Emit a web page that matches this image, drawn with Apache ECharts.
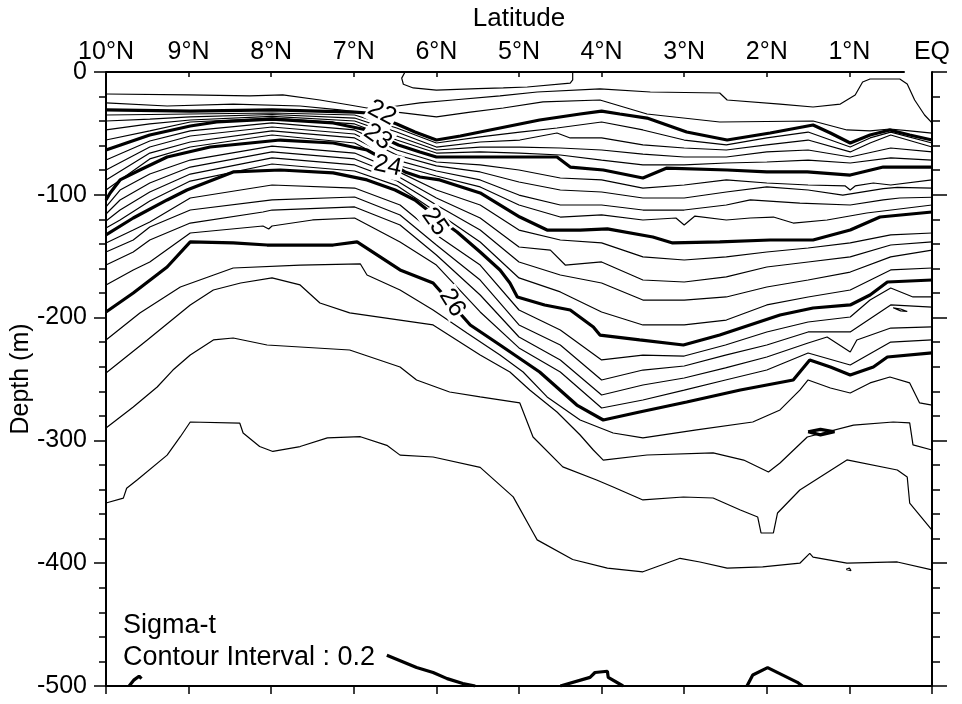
<!DOCTYPE html>
<html><head><meta charset="utf-8">
<script src="https://cdn.jsdelivr.net/npm/echarts/dist/echarts.min.js"></script>
<style>html,body{margin:0;padding:0;background:#fff}#c{width:962px;height:704px}</style>
</head><body><div id="c"></div>
<script>
// ---- axis ticks ----
const latTicks = [10,9,8,7,6,5,4,3,2,1,0];
const depthTicks = [0,-100,-200,-300,-400,-500];
const topLineEnd = 0.33; // top frame stops short of EQ

// ---- contour lines: [latitude (deg N), depth (m)] ----
const c21_4 = [[6.38,0],[6.42,-5],[6.4,-10],[6.28,-13],[6.0,-14.7],[5.5,-13.6],[5.19,-13],[4.9,-12.2],[4.38,-9],[4.35,-6.5],[4.35,0]];
const c21_6 = [[10,-17.9],[9,-18.7],[8.26,-19.5],[7.86,-18.7],[7.41,-22.8],[7.05,-26.9],[6.84,-29.3],[6.56,-28.5],[6.2,-25.2],[5.8,-22.8],[5.23,-19.5],[4.78,-16.3],[4.02,-13.8],[3.41,-16.3],[2.57,-17.1],[2.48,-22.8],[1.84,-26.1],[1.44,-28.5],[1.11,-26.1],[0.93,-18.7],[0.84,-8.1],[0.75,-5.7],[0.39,-5.7],[0.3,-9.8],[0.21,-22.8],[0.09,-35],[0,-41.5]];
const c21_8 = [[10,-25.2],[9.26,-27.7],[8.46,-26.1],[7.65,-27.7],[7.17,-30.9],[6.84,-33.4],[6.48,-32.6],[6.0,-36.6],[5.59,-32.6],[5.19,-29.3],[4.71,-24.4],[4.02,-22.8],[3.45,-34.2],[2.57,-40.7],[1.44,-39.9],[1.03,-47.2],[0.75,-48],[0.51,-46.4],[0.27,-48],[0,-49.7]];
const c22 = [[10,-30.9],[8.98,-31.8],[7.99,-30.9],[6.99,-32.6],[6.83,-33.4],[6.48,-42.3],[6.26,-48.9],[6.0,-55.4],[5.71,-52.1],[5.23,-45.6],[4.75,-39.1],[4.26,-34.2],[4.0,-31.8],[3.78,-34.2],[3.45,-37.5],[2.97,-48.9],[2.48,-55.4],[1.96,-49.7],[1.44,-43.2],[1.23,-49.7],[0.99,-57.8],[0.75,-51.3],[0.51,-47.2],[0.27,-51.3],[0,-55.4]];
const c22_2 = [[10,-35],[9.47,-34.6],[8.98,-34.2],[7.99,-33.4],[6.99,-35],[6.48,-45.6],[6.0,-57.8],[5.47,-52.9],[4.99,-48.9],[4.54,-45.6],[4.0,-40.7],[3.5,-47.2],[3.0,-55.4],[2.49,-59.4],[2.0,-53.7],[1.5,-48.9],[0.99,-61.1],[0.75,-53.7],[0.5,-48.9],[0,-57.8]];
const c22_4 = [[10,-39.9],[9.47,-38.3],[8.98,-36.6],[7.99,-34.6],[6.99,-37.5],[6.48,-48.9],[6.0,-61.1],[5.47,-57],[4.99,-55.4],[4.54,-49.7],[4.38,-53.7],[4.0,-53.7],[3.5,-59.4],[3.0,-61.9],[2.49,-63.5],[2.0,-59.4],[1.5,-55.4],[0.99,-65.1],[0.75,-57.8],[0.5,-51.3],[0,-61.1]];
const c22_6 = [[10,-47.2],[9.47,-42.3],[8.98,-39.1],[7.99,-36.2],[6.99,-39.9],[6.48,-52.1],[6.0,-63.5],[5.47,-61.1],[4.99,-61.1],[4.5,-61.9],[4.0,-63.5],[3.5,-66.8],[3.0,-69.2],[2.49,-69.2],[2.0,-65.1],[1.5,-63.5],[0.99,-69.2],[0.5,-61.9],[0,-65.1]];
const c22_8 = [[10,-55.4],[9.47,-48],[8.98,-40.7],[7.99,-37.5],[6.99,-42.3],[6.48,-55.4],[6.0,-66],[5.47,-65.1],[4.99,-66],[4.5,-67.6],[4.0,-71.7],[3.5,-75.7],[3.0,-75.7],[2.49,-74.1],[2.0,-73.3],[1.5,-71.7],[0.99,-74.1],[0.5,-70],[0,-71.7]];
const c23 = [[10,-63.5],[9.47,-51.3],[8.98,-44],[8.66,-40.7],[7.99,-38.3],[7.25,-41.5],[6.84,-47.2],[6.46,-59.4],[6.2,-65.1],[6.0,-69.2],[5.47,-69.2],[4.54,-69.2],[4.38,-77.4],[3.98,-79.8],[3.5,-86.3],[3.21,-78.2],[2.48,-79.8],[2.0,-81.4],[1.51,-81.4],[0.99,-83.9],[0.59,-77.4],[0,-77.4]];
const c23_2 = [[10,-71.7],[9.47,-56.2],[8.98,-48],[7.99,-41.5],[6.99,-47.2],[6.48,-63.5],[6.0,-73.3],[5.47,-75.7],[5.0,-79.8],[4.5,-86.3],[4.0,-87.9],[3.5,-94.5],[3.0,-92],[2.49,-87.9],[2.0,-90.4],[1.5,-92],[1.05,-92.8],[0.99,-96.1],[0.93,-92.8],[0.71,-90.4],[0.5,-92],[0,-87.9]];
const c23_4 = [[10,-79.8],[9.47,-61.1],[8.98,-52.1],[7.99,-44.8],[6.99,-50.5],[6.48,-67.6],[6.0,-76.5],[5.47,-81.4],[5.0,-89.6],[4.5,-96.1],[4.0,-97.7],[3.5,-102.6],[3.0,-102.6],[2.49,-97.7],[2.0,-93.6],[1.5,-96.1],[1.08,-100.2],[0.59,-95],[0.42,-94],[0,-94.5]];
const c23_6 = [[10,-87.9],[9.47,-66],[8.98,-57],[7.99,-48],[6.99,-53.7],[6.48,-71.7],[6.0,-80.6],[5.47,-87.9],[5.0,-100.2],[4.5,-108.3],[4.0,-108.3],[3.5,-112.4],[3.0,-112.4],[2.49,-108.3],[2.2,-104.2],[1.6,-106.7],[0.99,-108.3],[0.59,-104.2],[0.39,-102.6],[0,-102]];
const c23_8 = [[10,-96.1],[9.47,-70.8],[8.98,-61.1],[7.99,-51.3],[6.99,-57.8],[6.48,-75.7],[6.0,-84.7],[5.47,-93.6],[5.0,-108.3],[4.5,-118.1],[4.0,-116.4],[3.5,-120.5],[3.1,-118.9],[3.0,-124.6],[2.87,-117.3],[2.49,-120.5],[2.2,-118.9],[1.92,-118.1],[1.68,-123],[1.27,-120.5],[0.79,-114.8],[0,-108.3]];
const c24 = [[10,-104.2],[9.95,-98.5],[9.83,-87.9],[9.59,-79.8],[9.26,-69.2],[8.74,-61.1],[7.89,-55.4],[7.25,-57.8],[6.84,-63.5],[6.62,-71.7],[6.38,-81.4],[6.2,-85.5],[5.96,-87.9],[5.47,-98.5],[4.99,-118.1],[4.66,-128.7],[4.26,-128.7],[3.93,-127.8],[3.38,-134.4],[3.14,-139.2],[2.57,-138.4],[1.96,-136.8],[1.44,-136.8],[0.99,-128.7],[0.63,-118.1],[0,-114]];
const c24_2 = [[10,-109.9],[9.83,-96.1],[9.47,-83.1],[8.98,-71.7],[7.99,-60.3],[6.99,-66],[6.48,-80.5],[6.0,-96.1],[5.47,-108.3],[5.0,-128.7],[4.5,-136.8],[4.0,-139.2],[3.5,-150.6],[3.0,-153.1],[2.49,-150.6],[2.0,-146.6],[1.5,-143.3],[0.99,-139.2],[0.5,-132.7],[0,-131.1]];
const c24_4 = [[10,-115.6],[9.83,-104.2],[9.47,-90.4],[8.98,-77.4],[7.99,-65.1],[6.99,-70.8],[6.48,-84.5],[6.0,-102.6],[5.47,-118.9],[5.0,-142.5],[4.62,-145],[4.44,-157.2],[4.0,-154.7],[3.5,-169.4],[3.0,-171],[2.49,-166.9],[2.0,-158.8],[1.5,-154.7],[0.99,-150.6],[0.5,-140.9],[0,-138.4]];
const c24_6 = [[10,-121.3],[9.83,-112.4],[9.47,-97.7],[8.98,-83.1],[7.99,-70],[6.99,-75.7],[6.48,-88.5],[6.0,-108.3],[5.47,-128.7],[5.0,-154.7],[4.5,-165.3],[4.0,-171.8],[3.5,-185.7],[3.0,-185.7],[2.49,-183.2],[2.0,-175.1],[1.5,-169.4],[0.99,-162.9],[0.5,-150.6],[0,-145]];
const c24_8 = [[10,-127],[9.83,-120.5],[9.47,-105],[8.98,-88.8],[7.99,-74.9],[6.99,-80.6],[6.48,-92.5],[6.0,-114],[5.47,-138.4],[5.0,-167.7],[4.5,-179.1],[4.0,-195.4],[3.5,-206],[3.0,-206],[2.49,-202],[2.0,-189.7],[1.5,-183.2],[0.99,-177.5],[0.5,-161.2],[0,-159.6]];
const c25 = [[10,-132.7],[9.67,-118.9],[9.26,-104.2],[9.02,-96.1],[8.46,-81.4],[7.89,-79.8],[7.25,-82.2],[6.84,-87.9],[6.5,-96.1],[6.26,-104.2],[6.0,-118.1],[5.75,-130.3],[5.47,-146.6],[5.23,-161.2],[5.11,-171.8],[5.02,-183.2],[4.69,-189.7],[4.38,-193.8],[4.1,-207.6],[4.02,-214.2],[3.54,-218.2],[3.01,-222.3],[2.57,-214.2],[1.84,-197.9],[1.44,-192.2],[0.99,-189.7],[0.75,-181.6],[0.54,-171],[0,-169.4]];
const c25_2 = [[10,-139.2],[9.67,-128.7],[9.47,-122.1],[8.98,-102.6],[7.99,-92],[6.99,-94.5],[6.44,-108.3],[6.0,-132.7],[5.47,-157.2],[5.0,-193.8],[4.5,-210.1],[4.0,-234.5],[3.5,-230.5],[3.0,-231.3],[2.5,-222.3],[2.0,-211.7],[1.5,-203.6],[0.99,-199.5],[0.75,-185.7],[0.5,-175.9],[0.23,-183.2],[0,-183.2]];
const c25_4 = [[10,-146.6],[9.67,-136.8],[9.47,-126.2],[8.98,-112.4],[7.99,-104.2],[6.99,-101.8],[6.44,-116.4],[6.0,-140.9],[5.47,-169.4],[5.0,-206],[4.5,-222.3],[4.0,-250.8],[3.5,-242.7],[3.0,-239.4],[2.5,-230.5],[2.0,-222.3],[1.5,-211.7],[0.99,-211.7],[0.5,-189.7],[0,-191.4]];
const c25_6 = [[10,-157.2],[9.67,-146.6],[9.47,-136.8],[8.98,-123],[8.1,-114],[7.99,-112.4],[6.99,-109.9],[6.44,-124.6],[6.0,-149],[5.47,-181.6],[5.0,-215.8],[4.5,-234.5],[4.0,-263],[3.5,-254.9],[3.0,-249.2],[2.5,-241],[2.0,-232.1],[1.5,-220.7],[1.27,-215.8],[0.99,-228],[0.91,-218.2],[0.5,-208.5],[0,-207.6]];
const c25_8 = [[10,-173.4],[9.67,-161.2],[9.47,-154.7],[8.98,-131.1],[8.1,-125.4],[8.03,-127.8],[7.99,-125.4],[7.5,-120.5],[6.99,-118.9],[6.44,-138.4],[6.0,-157.2],[5.47,-195.4],[5.0,-224.7],[4.5,-244.3],[4.0,-273.6],[3.5,-267.1],[3.0,-259],[2.5,-250.8],[2.0,-242.7],[1.5,-228.8],[0.99,-238.6],[0.5,-219.9],[0,-218.2]];
const c26 = [[10,-195.4],[9.67,-180],[9.26,-158.8],[8.98,-138.4],[8.46,-139.2],[8.05,-140.9],[7.25,-140.9],[6.96,-138.4],[6.44,-161.2],[6.04,-171.8],[5.59,-206],[5.23,-222.3],[4.75,-244.3],[4.3,-271.2],[3.98,-283.4],[3.54,-276.9],[2.97,-268.7],[2.32,-259],[1.68,-250.8],[1.48,-234.5],[1.23,-240.2],[0.99,-246.7],[0.71,-240.2],[0.54,-232.1],[0,-228.8]];
const c26_2 = [[10,-218.2],[9.59,-196.2],[9.1,-175.1],[8.46,-159.6],[7.65,-157.2],[6.92,-156.3],[6.84,-165.3],[6.44,-177.5],[6.04,-193.8],[5.63,-212.5],[5.23,-230.5],[4.95,-244.3],[4.66,-264.6],[4.26,-283.4],[3.86,-294],[3.5,-298],[2.85,-291.5],[2.17,-285],[1.84,-275.2],[1.6,-259],[1.5,-250.8],[1.23,-257.3],[0.99,-261.4],[0.75,-253.2],[0.51,-248.4],[0.27,-253.2],[0.15,-269.5],[0,-271.2]];
const c26_4 = [[10,-245.1],[9.5,-218.2],[8.98,-189.7],[8.7,-177.5],[8.37,-171.8],[7.99,-167.7],[7.65,-173.4],[7.41,-188.1],[7.05,-196.2],[6.44,-202],[6.04,-206],[5.47,-230.5],[5.11,-244.3],[4.87,-259],[4.54,-276.9],[4.26,-295.6],[4.1,-307.8],[3.98,-316],[3.45,-311.9],[2.65,-310.2],[2.28,-316],[1.98,-325.7],[1.84,-318.4],[1.51,-297.2],[0.95,-287.5],[0.47,-285],[0.27,-285.8],[0.23,-303.7],[0,-307.8]];
const c26_6 = [[10,-289.9],[9.67,-272.8],[9.38,-256.5],[9.19,-242.7],[8.98,-230.5],[8.7,-218.2],[8.46,-216.6],[8.05,-222.3],[7.05,-226.4],[6.44,-240.2],[6.24,-250.8],[5.84,-260.6],[5.47,-264.6],[4.99,-269.5],[4.83,-297.2],[4.47,-321.6],[4.06,-332.2],[3.86,-337.9],[3.5,-348.5],[3.01,-346.1],[2.65,-346.9],[2.32,-356.7],[2.11,-362.4],[2.07,-375.4],[1.92,-375.4],[1.87,-359.1],[1.6,-340.4],[1.03,-315.9],[0.42,-324.1],[0.3,-329.8],[0.27,-351],[0,-373]];
const c26_8 = [[10,-351],[9.79,-347],[9.75,-339],[9.62,-332],[9.26,-312],[9.1,-297],[8.98,-285],[8.38,-286],[8.34,-294],[8.14,-305],[7.98,-309],[7.65,-305],[7.32,-298],[6.92,-297],[6.6,-304],[6.44,-312],[6.04,-313.5],[5.47,-322],[5.07,-346],[4.83,-375],[4.78,-381],[4.35,-397],[3.93,-404],[3.5,-407],[3.05,-396],[2.81,-399],[2.48,-404],[2.05,-403],[1.6,-400],[1.48,-392],[1.44,-395],[1.03,-400],[0.42,-399],[0,-405.5]];
const c27a = [[9.72,-500],[9.66,-495],[9.6,-492],[9.57,-494]];
const c27b = [[6.6,-475],[6.24,-485],[6.04,-489],[5.87,-494],[5.68,-498],[5.53,-500]];
const c27c = [[4.5,-500],[4.14,-493],[4.08,-489],[3.93,-488],[3.92,-493],[3.74,-500]];
const c27d = [[2.24,-500],[2.17,-491],[1.99,-485],[1.63,-497],[1.57,-500]];
const islandA = [[1.5,-293],[1.35,-291],[1.18,-293],[1.35,-295.5],[1.5,-293]];
const islandB = [[0.47,-192],[0.38,-193],[0.3,-195],[0.38,-194.5],[0.47,-192]];
const islandC = [[1.04,-405],[1.0,-404],[0.98,-406],[1.04,-405]];

const thinLines = [c21_4,c21_6,c21_8,c22_2,c22_4,c22_6,c22_8,c23_2,c23_4,c23_6,c23_8,
  c24_2,c24_4,c24_6,c24_8,c25_2,c25_4,c25_6,c25_8,c26_2,c26_4,c26_6,c26_8,islandB,islandC];
const thickLines = [c22,c23,c24,c25,c26,c27a,c27b,c27c,c27d,islandA];

// ---- contour labels ----
const labelText  = ['22','23','24','25','26'];
const labelLat   = [6.66,6.71,6.59,6.02,5.81];
const labelDepth = [-33.4,-52.9,-76.5,-122,-188];
const labelRot   = [-28,-35,-12,-55,-58];

const FF = '"Liberation Sans", Arial, Helvetica, sans-serif';
const chart = echarts.init(document.getElementById('c'), null, {renderer:'canvas'});

function lineSeries(data, w){
  return {type:'line', data:data, xAxisIndex:0, yAxisIndex:0, symbol:'none', showSymbol:false,
    silent:true, lineStyle:{color:'#000', width:w}, z:2, animation:false};
}
const series = [];
thinLines.forEach(d => series.push(lineSeries(d, 1.2)));
thickLines.forEach(d => series.push(lineSeries(d, 3.2)));
series.push({type:'line', data:[[latTicks[0],depthTicks[0]],[topLineEnd,depthTicks[0]]], symbol:'none',
  clip:false, silent:true, lineStyle:{color:'#000', width:2}, z:3});

const latFmt = v => v === 0 ? 'EQ' : v + '°N';

const legendTexts = [
  {type:'text', left:123, top:612, style:{text:'Sigma-t', font:'27px ' + FF, fill:'#000'}},
  {type:'text', left:123, top:644, style:{text:'Contour Interval : 0.2', font:'27px ' + FF, fill:'#000'}}
];

chart.setOption({
  animation:false,
  backgroundColor:'#fff',
  grid:{left:106, right:30, top:72, bottom:18, containLabel:false, outerBoundsMode:'none'},
  xAxis:[
    {type:'value', position:'bottom', min:0, max:10, interval:1, inverse:true,
     axisLine:{show:true, onZero:false, lineStyle:{color:'#000', width:2}},
     axisTick:{show:true, inside:false, length:8, lineStyle:{color:'#000', width:1.5}},
     axisLabel:{show:false}, splitLine:{show:false}},
    {type:'value', position:'top', min:0, max:10, interval:1, inverse:true,
     axisLine:{show:false, onZero:false},
     axisTick:{show:true, inside:true, length:5, lineStyle:{color:'#000', width:1.5}},
     axisLabel:{show:true, margin:7, fontSize:25, color:'#000', fontFamily:FF, formatter:latFmt},
     splitLine:{show:false},
     name:'Latitude', nameLocation:'middle', nameGap:40, nameMoveOverlap:false,
     nameTextStyle:{fontSize:26, color:'#000', fontFamily:FF}}
  ],
  yAxis:[
    {type:'value', position:'left', min:-500, max:0, interval:100,
     axisLine:{show:true, onZero:false, lineStyle:{color:'#000', width:2}},
     axisTick:{show:true, inside:false, length:12, lineStyle:{color:'#000', width:1.5}},
     minorTick:{show:true, splitNumber:5, length:7, lineStyle:{color:'#000', width:1.5}},
     axisLabel:{fontSize:25, color:'#000', margin:19, fontFamily:FF},
     splitLine:{show:false}, minorSplitLine:{show:false},
     name:'Depth (m)', nameLocation:'middle', nameGap:72, nameRotate:90, nameMoveOverlap:false,
     nameTextStyle:{fontSize:25, color:'#000', fontFamily:FF}},
    {type:'value', position:'right', min:-500, max:0, interval:100,
     axisLine:{show:true, onZero:false, lineStyle:{color:'#000', width:2}},
     axisTick:{show:true, inside:false, length:15, lineStyle:{color:'#000', width:1.5}},
     minorTick:{show:true, splitNumber:5, length:8, lineStyle:{color:'#000', width:1.5}},
     axisLabel:{show:false}, splitLine:{show:false}, minorSplitLine:{show:false}}
  ],
  graphic:legendTexts,
  series:series
});

// contour value labels, placed through the chart's own coordinate system
const labelGraphics = labelText.map((t,i) => {
  const p = chart.convertToPixel({xAxisIndex:0, yAxisIndex:0}, [labelLat[i], labelDepth[i]]);
  return {type:'text', x:p[0], y:p[1], rotation:labelRot[i]*Math.PI/180, z:100,
    style:{text:t, font:'25px ' + FF, fill:'#000', align:'center', verticalAlign:'middle',
      backgroundColor:'#fff', padding:[0,1]}};
});
chart.setOption({graphic: legendTexts.concat(labelGraphics)}, {replaceMerge:['graphic']});
</script>
</body></html>
